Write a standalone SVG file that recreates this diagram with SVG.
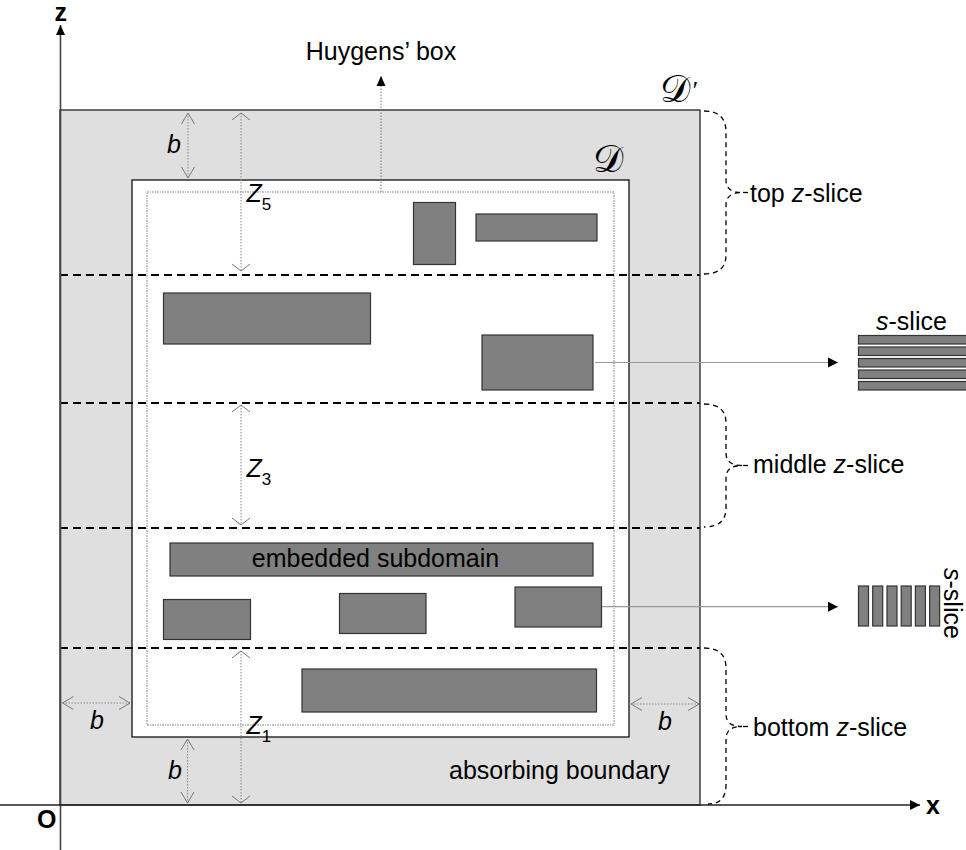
<svg xmlns="http://www.w3.org/2000/svg" width="966" height="850" viewBox="0 0 966 850">
<style>
text{font-family:"Liberation Sans",Arial,sans-serif;font-size:25px;fill:#000}
.it{font-style:italic}
.bold{font-weight:bold}
.sub{font-size:17px;font-style:normal}
.sd{fill:#808080;stroke:#333;stroke-width:1.2}
.slice{stroke:#000;stroke-width:2;stroke-dasharray:8 5;fill:none}
.dim{stroke:#888;stroke-width:1;stroke-dasharray:1.5 1.5;fill:none}
.brace{stroke:#000;stroke-width:1.3;stroke-dasharray:5 4;fill:none}
.conn{stroke:#999;stroke-width:1.2;fill:none}
.script{font-family:"DejaVu Serif","DejaVu Sans",serif;font-style:normal;font-size:38px}
.prime{font-family:"Liberation Serif",serif;font-style:italic;font-size:26px}
</style>
<defs>
<marker id="chevN" viewBox="-12 -8 14 16" refX="0" refY="0" markerWidth="14" markerHeight="16" markerUnits="userSpaceOnUse" orient="auto-start-reverse">
<path d="M-11,-6.5 L0,0 L-11,6.5" fill="none" stroke="#777" stroke-width="1"/>
</marker>
<marker id="chevW" viewBox="-9 -10 11 20" refX="0" refY="0" markerWidth="11" markerHeight="20" markerUnits="userSpaceOnUse" orient="auto-start-reverse">
<path d="M-7,-9 L0,0 L-7,9" fill="none" stroke="#777" stroke-width="1"/>
</marker>
<marker id="tri" viewBox="-11 -6 12 12" refX="0" refY="0" markerWidth="12" markerHeight="12" markerUnits="userSpaceOnUse" orient="auto">
<path d="M-10,-5 L0,0 L-10,5 Z" fill="#000"/>
</marker>
<marker id="triS" viewBox="-11 -5 12 10" refX="0" refY="0" markerWidth="12" markerHeight="10" markerUnits="userSpaceOnUse" orient="auto">
<path d="M-10,-4.5 L0,0 L-10,4.5 Z" fill="#000"/>
</marker>
</defs>

<g id="outer-domain">
<rect x="60" y="110" width="640" height="695" fill="#dfdfdf" stroke="#222" stroke-width="1.3"/>
<text x="660" y="102"><tspan class="script">𝒟</tspan><tspan class="prime" dx="1" dy="-3">′</tspan></text>
</g>

<g id="inner-domain">
<rect x="132" y="180" width="497" height="557" fill="#fff" stroke="#111" stroke-width="1.3"/>
<text class="script" x="593" y="172">𝒟</text>
</g>

<g id="huygens-box">
<rect x="147" y="192" width="467" height="533" fill="none" stroke="#888" stroke-width="1" stroke-dasharray="2 1 1 1"/>
<text x="381" y="60" text-anchor="middle">Huygens’ box</text>
</g>

<g id="z-slices">
<line class="slice" x1="60" y1="275" x2="700" y2="275"/>
<line class="slice" x1="60" y1="403" x2="700" y2="403"/>
<line class="slice" x1="60" y1="528" x2="700" y2="528"/>
<line class="slice" x1="60" y1="648" x2="700" y2="648"/>
</g>

<g id="subdomains">
<g id="sd1"><rect class="sd" x="413.5" y="202.5" width="42" height="62"/></g>
<g id="sd2"><rect class="sd" x="476" y="214" width="121" height="27"/></g>
<g id="sd3"><rect class="sd" x="163.5" y="293" width="207" height="51"/></g>
<g id="sd4"><rect class="sd" x="482" y="335" width="111" height="55"/></g>
<g id="sd5"><rect class="sd" x="170" y="543" width="423" height="33"/><text x="375.5" y="567" text-anchor="middle">embedded subdomain</text></g>
<g id="sd6"><rect class="sd" x="163.5" y="599.5" width="87" height="40"/></g>
<g id="sd7"><rect class="sd" x="339.5" y="593.5" width="86.5" height="40"/></g>
<g id="sd8"><rect class="sd" x="515" y="587" width="86.5" height="40"/></g>
<g id="sd9"><rect class="sd" x="302" y="669" width="294.5" height="43"/></g>
</g>

<g id="s-slice-horizontal">
<rect class="sd" x="858.5" y="335.5" width="120" height="8.5"/>
<rect class="sd" x="858.5" y="347" width="120" height="8.5"/>
<rect class="sd" x="858.5" y="358.5" width="120" height="8.5"/>
<rect class="sd" x="858.5" y="370" width="120" height="8.5"/>
<rect class="sd" x="858.5" y="381.5" width="120" height="8.5"/>
<text x="876" y="330"><tspan class="it">s</tspan>-slice</text>
</g>

<g id="s-slice-vertical">
<rect class="sd" x="858.5" y="586" width="10" height="40"/>
<rect class="sd" x="872.7" y="586" width="10" height="40"/>
<rect class="sd" x="887" y="586" width="10" height="40"/>
<rect class="sd" x="901.2" y="586" width="10" height="40"/>
<rect class="sd" x="915.4" y="586" width="10" height="40"/>
<rect class="sd" x="929.6" y="586" width="10" height="40"/>
<text transform="translate(944,568) rotate(90)"><tspan class="it">s</tspan>-slice</text>
</g>

<g id="braces">
<path class="brace" d="M704,111 Q726,111 726,132 L726,180 Q726,192.5 742,192.5 Q726,192.5 726,205 L726,255 Q726,274 704,274"/>
<line class="brace" x1="743" y1="192.5" x2="748" y2="192.5"/>
<text x="750" y="202">top <tspan class="it">z</tspan>-slice</text>
<path class="brace" d="M704,404 Q726,404 726,423 L726,453 Q726,465.5 742,465.5 Q726,465.5 726,478 L726,508 Q726,527 704,527"/>
<line class="brace" x1="743" y1="465.5" x2="750" y2="465.5"/>
<text x="753" y="473">middle <tspan class="it">z</tspan>-slice</text>
<path class="brace" d="M704,648 Q726,648 726,668 L726,714 Q726,726.5 742,726.5 Q726,726.5 726,739 L726,785 Q726,804 708,804"/>
<line class="brace" x1="743" y1="726.5" x2="750" y2="726.5"/>
<text x="753" y="736">bottom <tspan class="it">z</tspan>-slice</text>
</g>

<g id="connectors">
<line class="conn" x1="595" y1="362.5" x2="838" y2="362.5" marker-end="url(#tri)"/>
<line class="conn" x1="602" y1="606.7" x2="838" y2="606.7" marker-end="url(#tri)"/>
<line x1="381" y1="192" x2="381" y2="76" stroke="#777" stroke-width="1" stroke-dasharray="1.5 1.5" marker-end="url(#triS)"/>
<line class="dim" x1="188" y1="113" x2="188" y2="178" marker-start="url(#chevN)" marker-end="url(#chevN)"/>
<line class="dim" x1="187.5" y1="739" x2="187.5" y2="803" marker-start="url(#chevN)" marker-end="url(#chevN)"/>
<line class="dim" x1="62.5" y1="703" x2="130" y2="703" marker-start="url(#chevN)" marker-end="url(#chevN)"/>
<line class="dim" x1="631" y1="704" x2="699" y2="704" marker-start="url(#chevN)" marker-end="url(#chevN)"/>
<line class="dim" x1="241" y1="113" x2="241" y2="271" marker-start="url(#chevW)" marker-end="url(#chevW)"/>
<line class="dim" x1="241" y1="405" x2="241" y2="525" marker-start="url(#chevW)" marker-end="url(#chevW)"/>
<line class="dim" x1="241" y1="651" x2="241" y2="803" marker-start="url(#chevW)" marker-end="url(#chevW)"/>
</g>

<g id="dimension-labels">
<text class="it" x="167" y="153">b</text>
<text class="it" x="90" y="729">b</text>
<text class="it" x="168" y="779">b</text>
<text class="it" x="658" y="730">b</text>
<text class="it" x="246.5" y="202">Z<tspan class="sub" dy="8">5</tspan></text>
<text class="it" x="246.5" y="477">Z<tspan class="sub" dy="7.5">3</tspan></text>
<text class="it" x="246.5" y="734">Z<tspan class="sub" dy="7.5">1</tspan></text>
<text x="670" y="779" text-anchor="end">absorbing boundary</text>
</g>

<g id="axes">
<line x1="60.5" y1="850" x2="60.5" y2="25" stroke="#444" stroke-width="1.6" marker-end="url(#triS)"/>
<line x1="0" y1="805" x2="920" y2="805" stroke="#222" stroke-width="1.6" marker-end="url(#tri)"/>
<text class="bold" x="54.5" y="21" font-size="19">z</text>
<text class="bold" x="926" y="814" font-size="22">x</text>
<text class="bold" x="37" y="828" font-size="22">O</text>
</g>
</svg>
